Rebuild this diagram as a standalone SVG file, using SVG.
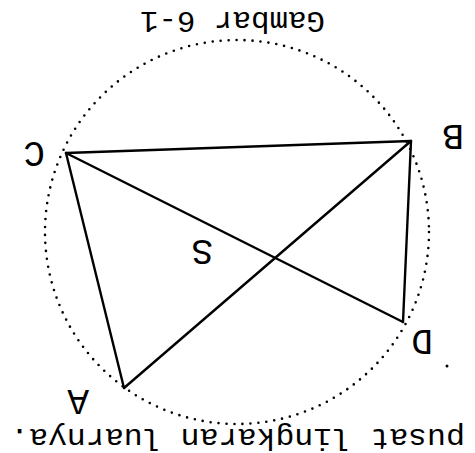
<svg xmlns="http://www.w3.org/2000/svg" width="475" height="453" viewBox="0 0 475 453">
<style>
.edge{stroke:#000;stroke-width:2.4;fill:none;stroke-linecap:round}
.circ{stroke:#000;stroke-width:2.6;fill:none;stroke-linecap:round;stroke-dasharray:0 8}
.lbl{font-family:"Liberation Mono","Courier New",monospace;font-size:36px;fill:#000}
.txt{font-family:"Liberation Mono","Courier New",monospace;font-size:30px;fill:#000}
</style>
<rect width="475" height="453" fill="#fff"/>
<g id="circle"><circle class="circ" cx="237" cy="232" r="192"/></g>
<g id="connectors">
<line class="edge" x1="66" y1="153" x2="411" y2="141"/>
<line class="edge" x1="66" y1="153" x2="403" y2="322"/>
<line class="edge" x1="66" y1="153" x2="124" y2="388"/>
<line class="edge" x1="124" y1="388" x2="411" y2="141"/>
<line class="edge" x1="411" y1="141" x2="403" y2="322"/>
</g>
<g transform="rotate(180 237.5 226.5)">
<g id="A"><text class="lbl" x="386" y="63">A</text></g>
<g id="B"><text class="lbl" x="11" y="328">B</text></g>
<g id="C"><text class="lbl" x="430" y="311">C</text></g>
<g id="D"><text class="lbl" x="42" y="123">D</text></g>
<g id="S"><text class="lbl" x="262" y="213">S</text></g>
<g id="caption"><text class="txt" x="150" y="441" textLength="185" lengthAdjust="spacingAndGlyphs">Gambar 6-1</text></g>
<g id="note"><text class="txt" x="10" y="24" textLength="455" lengthAdjust="spacingAndGlyphs">pusat lingkaran luarnya.</text></g>
</g>
<circle cx="447" cy="366" r="1.5" fill="#000"/>
</svg>
